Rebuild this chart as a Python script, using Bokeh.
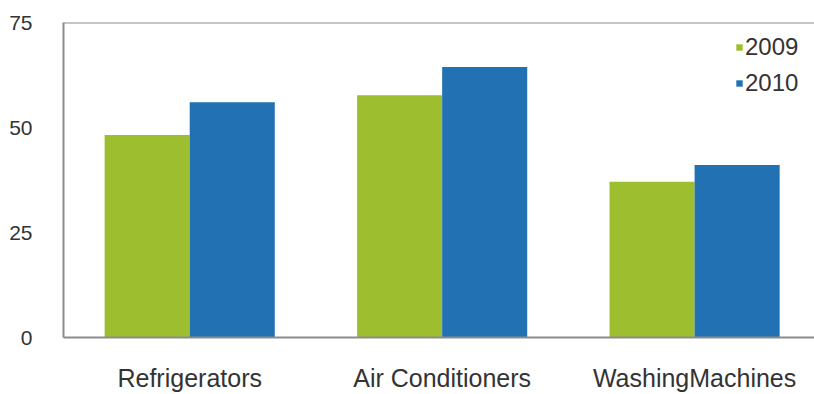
from bokeh.plotting import figure
from bokeh.models import (ColumnDataSource, Range1d, FixedTicker, Span,
                          Legend, LegendItem)
from bokeh.transform import dodge
from bokeh.embed import file_html
from bokeh.resources import INLINE

# Sales by appliance category, two years
categories = ["Refrigerators", "Air Conditioners", "WashingMachines"]
sales_2009 = [48.2, 57.7, 37.1]
sales_2010 = [56.0, 64.4, 41.1]
y_ticks = [0, 25, 50, 75]

GREEN = "#9CBE2F"
BLUE = "#2171B3"
FRAME = "#8C8C8C"
FONT = "Liberation Sans"

positions = [i + 0.5 for i in range(len(categories))]
source = ColumnDataSource(data=dict(pos=positions, y2009=sales_2009, y2010=sales_2010))

p = figure(width=814, height=394, output_backend="svg", toolbar_location=None,
           x_range=Range1d(0, 2.975), y_range=Range1d(0, 75),
           min_border_left=63, min_border_right=0, min_border_top=22,
           min_border_bottom=56)
p.outline_line_color = None
p.grid.visible = False
p.background_fill_color = "white"
p.border_fill_color = "white"

bar_w = 0.337
r09 = p.vbar(x=dodge("pos", -bar_w / 2, range=p.x_range), top="y2009", width=bar_w,
             source=source, fill_color=GREEN, line_color=None)
r10 = p.vbar(x=dodge("pos", bar_w / 2, range=p.x_range), top="y2010", width=bar_w,
             source=source, fill_color=BLUE, line_color=None)

# frame top line
p.add_layout(Span(location=75, dimension="width", line_color=FRAME, line_width=2))

# y axis
p.yaxis.ticker = FixedTicker(ticks=y_ticks)
p.yaxis.axis_line_color = FRAME
p.yaxis.axis_line_width = 2
p.yaxis.major_tick_line_color = None
p.yaxis.minor_tick_line_color = None
p.yaxis.major_label_standoff = 25
p.yaxis.major_label_text_font = FONT
p.yaxis.major_label_text_font_size = "21px"
p.yaxis.major_label_text_color = "#333333"

# x axis with category names at the group centres
p.xaxis.ticker = FixedTicker(ticks=positions)
p.xaxis.major_label_overrides = {pos: name for pos, name in zip(positions, categories)}
p.xaxis.axis_line_color = FRAME
p.xaxis.axis_line_width = 2
p.xaxis.major_tick_line_color = None
p.xaxis.minor_tick_line_color = None
p.xaxis.major_label_standoff = 20
p.xaxis.major_label_text_font = FONT
p.xaxis.major_label_text_font_size = "25px"
p.xaxis.major_label_text_color = "#333333"

legend = Legend(items=[LegendItem(label="2009", renderers=[r09]),
                       LegendItem(label="2010", renderers=[r10])],
                location=(672, 240))
legend.border_line_color = None
legend.background_fill_alpha = 0
legend.glyph_width = 8
legend.glyph_height = 8
legend.label_standoff = 2
legend.label_height = 25
legend.spacing = 8
legend.padding = 0
legend.margin = 0
legend.label_text_font = FONT
legend.label_text_font_size = "24px"
legend.label_text_color = "#333333"
p.add_layout(legend)

open("out.html", "w").write(file_html(p, INLINE))
